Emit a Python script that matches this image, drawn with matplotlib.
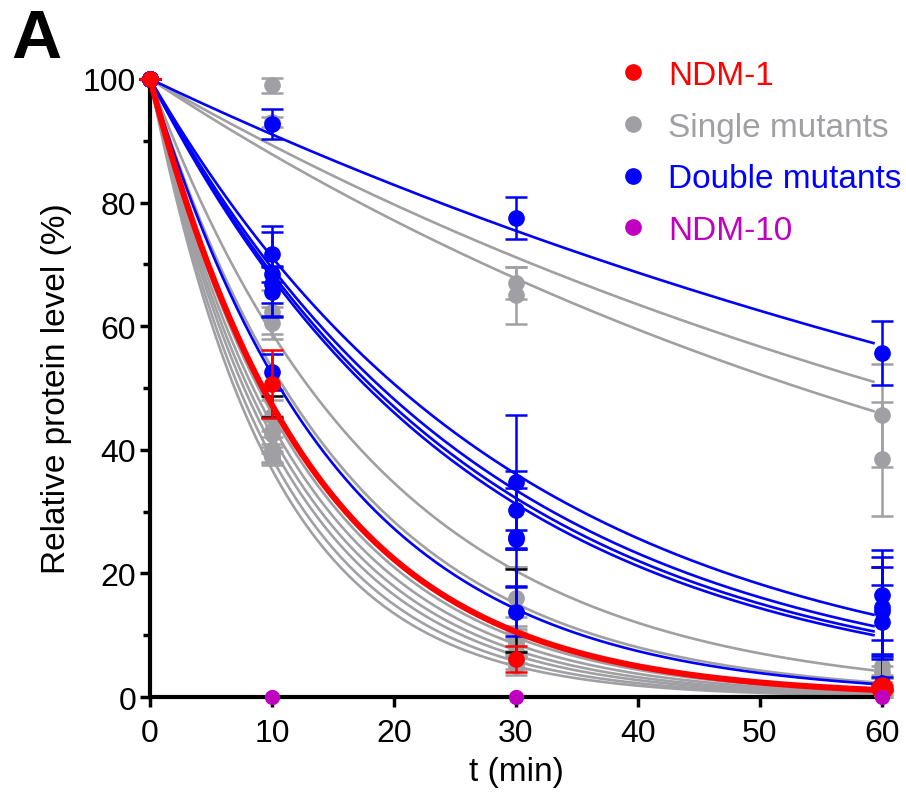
import numpy as np
import matplotlib.pyplot as plt
from matplotlib.lines import Line2D

plt.rcParams['font.family'] = ['Liberation Sans', 'DejaVu Sans']

RED = '#ff0000'
GRAY = '#a0a0a4'
BLUE = '#0000ff'
MAG = '#c000c0'

t = [0, 10, 30, 60]

# fitted first-order decay constants (1/min)
k_ndm1 = 0.075
k_single = [0.01135, 0.0130, 0.053, 0.063, 0.078, 0.082, 0.086, 0.090, 0.095, 0.100]
k_double = [0.0094, 0.034, 0.0365, 0.0378, 0.0388, 0.065]

ndm1_mean = [100, 50.6, 6.1, 1.5]
ndm1_err = [0, 5.5, 2.1, 0.5]

single_mean = [
    [100, 99.0, 67.0, 45.6],
    [100, 93.0, 65.0, 38.5],
    [100, 62.3, 16.0, 5.0],
    [100, 60.5, 14.0, 4.0],
    [100, 45.5, 10.0, 2.0],
    [100, 43.0, 9.0, 1.5],
    [100, 42.5, 8.5, 1.0],
    [100, 40.0, 7.5, 1.0],
    [100, 39.0, 6.0, 0.5],
    [100, 38.8, 5.0, 0.5],
]
single_err = [
    [0, 1.2, 2.6, 8.3],
    [0, 0.8, 4.6, 9.2],
    [0, 3.5, 5.0, 1.5],
    [0, 2.6, 7.0, 1.0],
    [0, 2.5, 3.0, 1.0],
    [0, 2.0, 2.5, 1.0],
    [0, 3.0, 2.0, 0.5],
    [0, 2.0, 2.0, 0.5],
    [0, 1.5, 1.5, 0.5],
    [0, 1.0, 1.5, 0.5],
]

double_mean = [
    [100, 92.7, 77.5, 55.7],
    [100, 71.7, 34.8, 16.5],
    [100, 68.4, 30.3, 14.6],
    [100, 66.8, 25.9, 14.0],
    [100, 65.5, 25.5, 12.1],
    [100, 52.6, 13.8, 2.2],
]
double_err = [
    [0, 2.4, 3.4, 5.2],
    [0, 4.5, 10.8, 7.3],
    [0, 6.8, 6.2, 8.0],
    [0, 3.0, 8.0, 7.0],
    [0, 4.0, 1.5, 6.0],
    [0, 2.9, 4.0, 1.0],
]

# extra error bars drawn in black behind the others
black_t = [10, 30, 60]
black_mean = [47.0, 14.0, 11.5]
black_err = [1.7, 6.7, 9.5]

ndm10_t = [10, 30, 60]
ndm10_mean = [0, 0, 0]

fig = plt.figure(figsize=(9.06, 8.04), dpi=100)
ax = fig.add_axes([0.1656, 0.1318, 0.8079, 0.7687])

tt = np.linspace(0, 59.3, 300)
ebkw = dict(fmt='o', markersize=11, elinewidth=1.8, capsize=8, capthick=1.8, clip_on=False)

for k, m, e in zip(k_single, single_mean, single_err):
    ax.plot(tt, 100 * np.exp(-k * tt), color=GRAY, lw=1.9, zorder=2)
    ax.errorbar(t, m, yerr=e, color=GRAY, zorder=2.5, **ebkw)

ax.errorbar(black_t, black_mean, yerr=black_err, fmt='none', ecolor='black',
            elinewidth=1.8, capsize=8, capthick=1.8, zorder=2.6)

for k, m, e in zip(k_double, double_mean, double_err):
    ax.plot(tt, 100 * np.exp(-k * tt), color=BLUE, lw=1.9, zorder=3)
    ax.errorbar(t, m, yerr=e, color=BLUE, zorder=3.5, **ebkw)

ax.plot(tt, 100 * np.exp(-k_ndm1 * tt), color=RED, lw=4.4, zorder=4)
ax.errorbar(t, ndm1_mean, yerr=ndm1_err, color=RED, zorder=4.5, **ebkw)
ax.plot([60], [ndm1_mean[-1]], 'o', color=RED, markersize=15, zorder=4.6, clip_on=False)

ax.plot(ndm10_t, ndm10_mean, 'o', color=MAG, markersize=10, zorder=5, clip_on=False)

ax.set_xlim(0, 60)
ax.set_ylim(0, 100)
ax.set_xticks(range(0, 61, 10))
ax.set_yticks(range(0, 101, 20))
ax.set_yticks(range(10, 100, 20), minor=True)
for s in ['top', 'right']:
    ax.spines[s].set_visible(False)
for s in ['left', 'bottom']:
    ax.spines[s].set_linewidth(3)
ax.tick_params(axis='both', which='major', length=7, width=2.5, labelsize=23)
ax.tick_params(axis='x', which='major', pad=8)
ax.tick_params(axis='y', which='major', pad=3)
ax.tick_params(axis='y', which='minor', length=5, width=2.5)
ax.set_xlabel('t (min)', fontsize=24, labelpad=6)
ax.set_ylabel('Relative protein level (%)', fontsize=24, labelpad=8)

labels = ['NDM-1', 'Single mutants', 'Double mutants', 'NDM-10']
colors = [RED, GRAY, BLUE, MAG]
handles = [Line2D([], [], marker='o', ls='', color=c, markersize=11) for c in colors]
fig.legend(handles, labels, labelcolor=colors, loc='upper left',
           bbox_to_anchor=(0.688, 0.924), frameon=False, fontsize=24,
           handlelength=0.6, handletextpad=0.75, labelspacing=0.62,
           borderpad=0, borderaxespad=0)

fig.text(0.012, 0.928, 'A', fontsize=50, fontweight='bold')

fig.savefig('out.png', dpi=100)
